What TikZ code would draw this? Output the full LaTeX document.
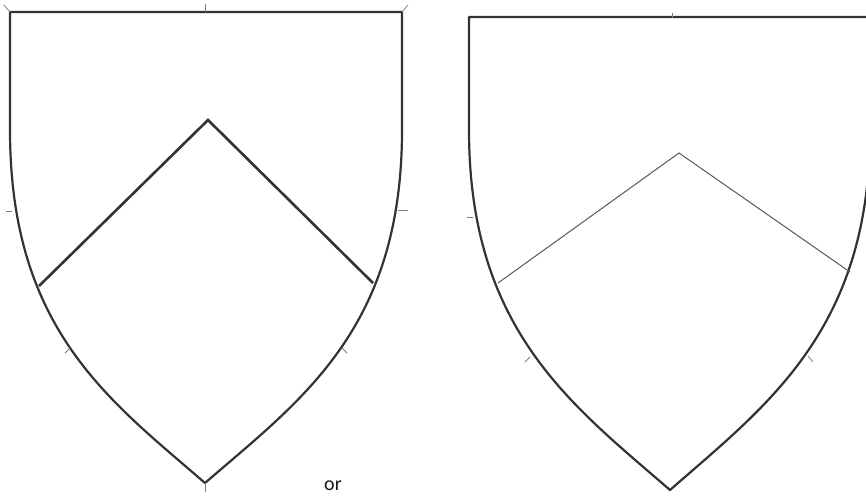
\documentclass[tikz,border=0pt]{standalone}
\usepackage{fontspec}
\setmainfont{Carlito}
\begin{document}
\begin{tikzpicture}[x=1pt,y=-1pt,
  outline/.style={draw=black!80,line width=2.2pt,line join=round},
  chevthick/.style={draw=black!80,line width=2.6pt,line join=miter},
  chevthin/.style={draw=black!65,line width=1pt},
  tick/.style={draw=black!50,line width=0.8pt}]
\useasboundingbox (0,0) rectangle (866,495);
\clip (0,0) rectangle (866,495);
\fill[white] (0,0) rectangle (866,495);
% left shield
\coordinate (LTL) at (10,12);
\coordinate (LTR) at (402,12);
\coordinate (LB) at (205,483);
\draw[outline] (10,130) -- (LTL) -- (LTR) -- (402,130)
  .. controls (402,330) and (300,400.5) .. (LB)
  .. controls (110,400.5) and (10,330) .. (10,130);
\coordinate (LCa) at (208,120);
\coordinate (LCl) at (39,286);
\coordinate (LCr) at (373,283);
\draw[chevthick] (LCl) -- (LCa) -- (LCr);
% ticks left
\draw[tick] (4,5) -- (LTL);
\draw[tick] (205,4) -- (205,12);
\draw[tick] (LTR) -- (408,5);
\draw[tick] (6,211) -- (12,211);
\draw[tick] (398,210) -- (408,210);
\draw[tick] (65,353) -- (70,348);
\draw[tick] (342,348) -- (347,353);
\draw[tick] (LB) -- (205,492);
% right shield
\coordinate (RTL) at (469,17);
\coordinate (RTR) at (870,17);
\coordinate (RB) at (670,490);
\draw[outline] (469,130) -- (RTL) -- (RTR) -- (870,130)
  .. controls (870,330) and (767,405) .. (RB)
  .. controls (572,405) and (469,330) .. (469,130);
\coordinate (RCa) at (679,153);
\coordinate (RCl) at (498,283);
\coordinate (RCr) at (850,272);
\draw[chevthin] (RCl) -- (RCa) -- (RCr);
\draw[tick] (672,13) -- (672,18);
\draw[tick] (467,217) -- (473,217);
\draw[tick] (525,362) -- (530,357);
\draw[tick] (808,356) -- (813,362);
% text
\node[font=\fontsize{20}{24}\selectfont, text=black!90, anchor=base] (or) at (333,490) {or};
\end{tikzpicture}
\end{document}
